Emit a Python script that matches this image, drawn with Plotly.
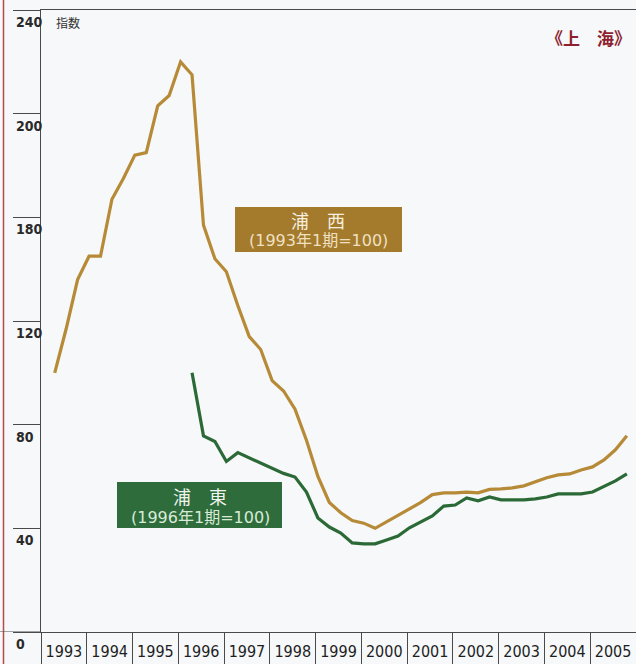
import plotly.graph_objects as go

# ---- data (quarterly index values, period 0 = 1993年1期) ----
years = ["1993", "1994", "1995", "1996", "1997", "1998", "1999",
         "2000", "2001", "2002", "2003", "2004", "2005"]
y_tick_vals = [0, 40, 80, 120, 160, 200, 240]
y_tick_text = ["0", "40", "80", "120", "180", "200", "240"]

puxi = [100, 117, 136, 145, 145, 167, 175, 184, 185, 203, 207, 220,
        215, 157, 144, 139, 126, 114, 109, 97, 93, 86, 74, 60,
        50, 46, 43, 42, 40, 42.5, 45, 47.5, 50, 53, 53.7, 53.7,
        54, 53.7, 55, 55.2, 55.6, 56.4, 58, 59.5, 60.6, 61, 62.5, 63.7,
        66.4, 70.3, 75.7]
pudong_start = 12  # 1996年1期
pudong = [100, 75.7, 73.5, 65.8, 69.2, 67.2, 65.3, 63.3, 61.2, 59.8, 54, 44,
          40.5, 38.2, 34.4, 34, 34, 35.5, 37, 40.2, 42.5, 44.8, 48.6, 49,
          51.7, 50.6, 52.1, 51, 51, 51, 51.4, 52.1, 53.3, 53.3, 53.3, 54,
          56, 58.3, 61]

# ---- layout constants ----
W, H = 636, 664
ML, MR, MT, MB = 41, 0, 10, 32
PW, PH = W - ML - MR, H - MT - MB
X_OFFSET = 0.3          # position of a year's first period inside its cell
STEP = 0.25             # quarterly step in year units

GOLD = "#b68a36"
GOLD_BOX = "#a47a2c"
GREEN = "#2b6a36"
GREEN_BOX = "#2f6c3b"
AXIS = "#4a4a4a"
BG = "#f6f8fa"
NUM_FONT = "Liberation Sans Narrow, DejaVu Sans Condensed, Arial Narrow, sans-serif"
CJK = "Noto Sans CJK JP, Noto Sans CJK SC, sans-serif"
BOX_FONT = "DejaVu Sans, Noto Sans CJK JP, sans-serif"

x_puxi = [X_OFFSET + i * STEP for i in range(len(puxi))]
x_pudong = [X_OFFSET + (pudong_start + i) * STEP for i in range(len(pudong))]

fig = go.Figure()
fig.add_trace(go.Scatter(x=x_puxi, y=puxi, mode="lines",
                         line=dict(color=GOLD, width=3.2), name="浦西",
                         hoverinfo="skip"))
fig.add_trace(go.Scatter(x=x_pudong, y=pudong, mode="lines",
                         line=dict(color=GREEN, width=3.2), name="浦東",
                         hoverinfo="skip"))

def px_x(p):
    return (p - ML) / PW

def px_y(p):
    return (H - MB - p) / PH

shapes = []
# left page edge (scan)
shapes.append(dict(type="line", xref="paper", yref="paper",
                   x0=px_x(3.5), x1=px_x(3.5), y0=px_y(0), y1=px_y(H),
                   line=dict(color="#b84a4a", width=1.5)))
# extend zero line to the left
shapes.append(dict(type="line", xref="paper", yref="y",
                   x0=px_x(0), x1=0, y0=0, y1=0,
                   line=dict(color=AXIS, width=1.2)))
# top border extension to the left
shapes.append(dict(type="line", xref="paper", yref="y",
                   x0=px_x(14), x1=0, y0=240, y1=240,
                   line=dict(color=AXIS, width=1.2)))

# label boxes
shapes.append(dict(type="rect", xref="paper", yref="paper",
                   x0=px_x(235), x1=px_x(402), y0=px_y(252), y1=px_y(207),
                   fillcolor=GOLD_BOX, line=dict(width=0), layer="above"))
shapes.append(dict(type="rect", xref="paper", yref="paper",
                   x0=px_x(117), x1=px_x(282), y0=px_y(528), y1=px_y(482),
                   fillcolor=GREEN_BOX, line=dict(width=0), layer="above"))

annotations = []
for v, t in zip(y_tick_vals, y_tick_text):
    annotations.append(dict(x=px_x(14), y=v, xref="paper", yref="y",
                            text="<b>" + t + "</b>", showarrow=False,
                            xanchor="left", yanchor="top", yshift=-2,
                            font=dict(family=NUM_FONT, size=14, color="#2a2a2a")))

annotations.append(dict(x=px_x(54), y=px_y(22), xref="paper", yref="paper",
                        text="指数", showarrow=False, xanchor="left",
                        yanchor="middle",
                        font=dict(family=CJK, size=12, color="#333")))
annotations.append(dict(x=px_x(544), y=px_y(37), xref="paper", yref="paper",
                        text="<b>《上　海》</b>", showarrow=False,
                        xanchor="left", yanchor="middle",
                        font=dict(family=CJK, size=17, color="#8e1f2e")))

# box texts
annotations.append(dict(x=px_x(318), y=px_y(220), xref="paper", yref="paper",
                        text="浦　西", showarrow=False, xanchor="center",
                        yanchor="middle",
                        font=dict(family=CJK, size=18, color="#f7efdf")))
annotations.append(dict(x=px_x(318), y=px_y(241), xref="paper", yref="paper",
                        text="(1993年1期=100)", showarrow=False,
                        xanchor="center", yanchor="middle",
                        font=dict(family=BOX_FONT, size=16, color="#efe0c2")))
annotations.append(dict(x=px_x(200), y=px_y(496), xref="paper", yref="paper",
                        text="浦　東", showarrow=False, xanchor="center",
                        yanchor="middle",
                        font=dict(family=CJK, size=18, color="#eef5ee")))
annotations.append(dict(x=px_x(200), y=px_y(517), xref="paper", yref="paper",
                        text="(1996年1期=100)", showarrow=False,
                        xanchor="center", yanchor="middle",
                        font=dict(family=BOX_FONT, size=16, color="#d9ead9")))

fig.update_layout(
    width=W, height=H,
    margin=dict(l=ML, r=MR, t=MT, b=MB, pad=0),
    paper_bgcolor=BG, plot_bgcolor=BG,
    showlegend=False,
    shapes=shapes,
    annotations=annotations,
    xaxis=dict(range=[0, len(years)], showgrid=False, zeroline=False,
               tickmode="array",
               tickvals=[k + 0.5 for k in range(len(years))],
               ticktext=years, ticks="", ticklabelstandoff=5,
               tickfont=dict(family=NUM_FONT, size=16, color="#1e1e1e"),
               showline=True, mirror=True, linecolor=AXIS, linewidth=1.2,
               minor=dict(tickmode="linear", tick0=0, dtick=1,
                          ticks="outside", ticklen=MB, tickwidth=1.2,
                          tickcolor=AXIS, showgrid=False),
               fixedrange=True),
    yaxis=dict(range=[0, 240], showgrid=False, zeroline=False,
               tickmode="array", tickvals=y_tick_vals,
               showticklabels=False, ticks="outside", ticklen=27,
               tickwidth=1.2, tickcolor=AXIS,
               showline=True, linecolor=AXIS, linewidth=1.2,
               fixedrange=True),
)

fig.write_html(
    "out.html",
    config={"displayModeBar": False},
    post_script="document.body.style.margin='0';document.body.style.overflow='hidden';",
)
